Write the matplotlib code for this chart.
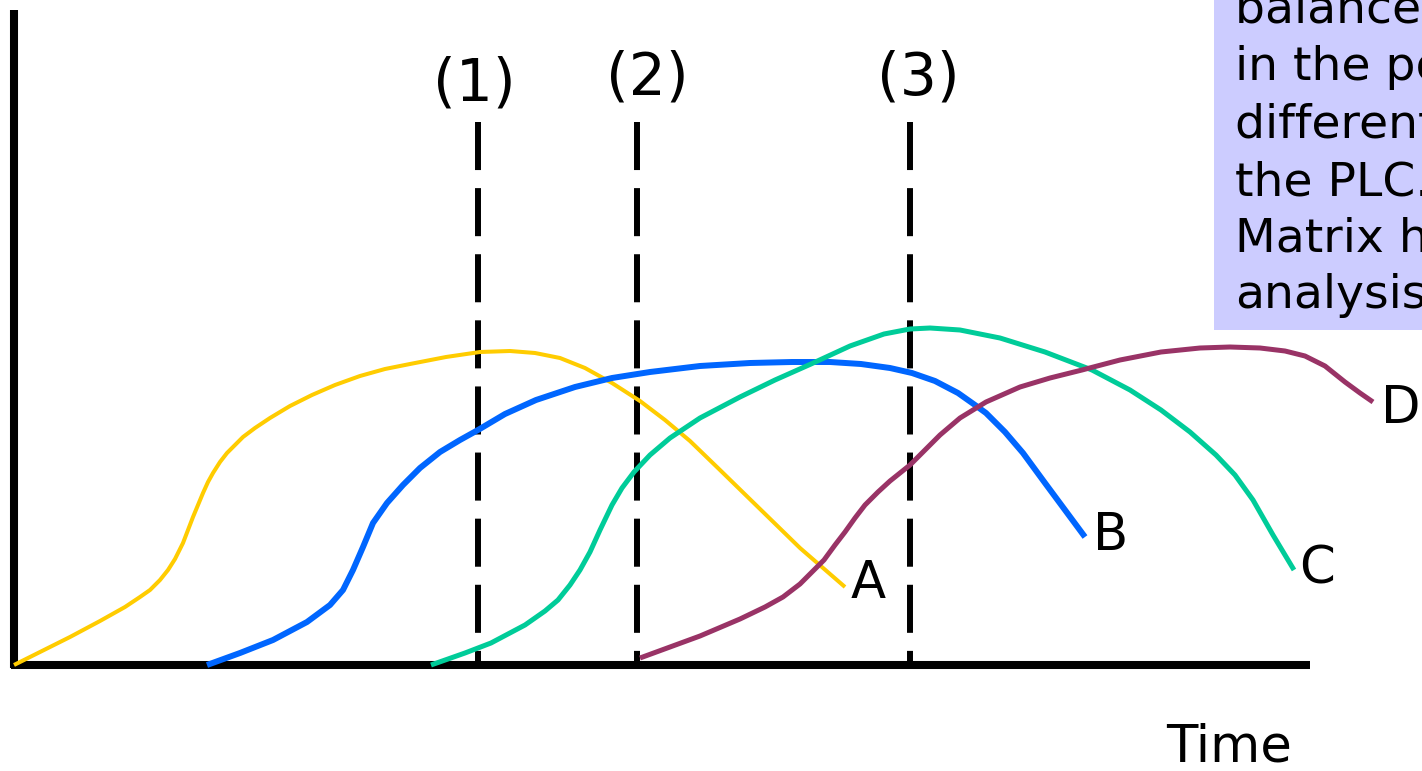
import matplotlib
matplotlib.use("Agg")
import matplotlib.pyplot as plt
from matplotlib.patches import Rectangle

# product life cycle curves (time, sales)
a_time = [0, 26, 56, 86, 111, 126, 136, 146, 154, 161, 169, 174, 179, 184, 189, 194, 199, 206, 213, 221,
          229, 241, 256, 276, 298, 321, 346, 371, 396, 432, 466, 496, 521, 546, 571, 598, 626, 651, 676, 706,
          746, 786, 831]
a_sales = [0, 13, 28, 44, 58, 68, 75, 85, 95, 106, 122, 135, 148, 160, 172, 183, 192, 203, 212, 220,
           228, 237, 247, 259, 270, 280, 289, 296, 301, 308, 313, 314, 312, 307, 297, 282, 264, 245, 224, 195,
           156, 117, 78]

b_time = [193, 226, 259, 293, 316, 329, 339, 349, 359, 373, 389, 406, 426, 446, 464, 491, 522, 561, 598, 636,
          686, 736, 778, 816, 847, 876, 898, 921, 944, 961, 972, 991, 1009, 1031, 1051, 1071]
b_sales = [0, 12, 25, 43, 60, 75, 95, 118, 142, 162, 180, 197, 213, 225, 235, 251, 265, 278, 287, 293,
           299, 302, 303, 303, 301, 297, 292, 284, 272, 260, 252, 233, 212, 182, 155, 128]

c_time = [417, 451, 477, 511, 531, 544, 556, 566, 576, 586, 598, 608, 620, 636, 656, 686, 726, 761, 797, 836,
          870, 896, 916, 946, 986, 1031, 1078, 1116, 1147, 1176, 1202, 1221, 1239, 1259, 1280]
c_sales = [0, 12, 22, 40, 54, 65, 80, 95, 113, 135, 160, 177, 193, 210, 227, 247, 268, 285, 301, 319,
           331, 336, 337, 335, 327, 313, 295, 275, 255, 233, 210, 190, 165, 130, 95]

d_time = [626, 656, 686, 726, 751, 769, 786, 798, 810, 821, 831, 841, 851, 864, 876, 896, 911, 926, 946, 972,
          1006, 1036, 1068, 1106, 1147, 1186, 1216, 1246, 1271, 1291, 1311, 1331, 1346, 1359]
d_sales = [7, 18, 29, 46, 58, 68, 81, 93, 105, 120, 133, 147, 160, 173, 184, 200, 215, 230, 247, 263,
           278, 287, 295, 305, 313, 317, 318, 317, 314, 309, 299, 283, 272, 263]

phase_time = [464, 623, 896]
phase_labels = ["(1)", "(2)", "(3)"]

box_lines = ["balance of products", "in the portfolio at", "different stages of",
             "the PLC. The BCG", "Matrix helps this", "analysis"]

plt.rcParams["lines.scale_dashes"] = False

fig = plt.figure(figsize=(14.22, 7.71), dpi=100)
ax = fig.add_axes([0, 0, 1, 1])
ax.set_xlim(-14, 1408)
ax.set_ylim(-106, 665)
ax.axis("off")

# shaded note box (runs off the edge of the slide)
ax.add_patch(Rectangle((1200, 335), 400, 500, facecolor="#ccccff", edgecolor="none", zorder=1))
box_s = [642, 585, 527, 470, 413, 357]
for line, s in zip(box_lines, box_s):
    ax.text(1221, s, line, fontsize=34, va="baseline", ha="left", zorder=2)

# axes
ax.plot([0, 0], [-3, 655], color="black", lw=5.8, solid_capstyle="butt", zorder=3)
ax.plot([-3, 1296], [0, 0], color="black", lw=5.8, solid_capstyle="butt", zorder=3)

# phase markers
label_pos = [(460, 564), (633, 570), (904, 570)]
for t, lab, (lx, ly) in zip(phase_time, phase_labels, label_pos):
    ax.plot([t, t], [543, 0], color="black", lw=4.3, linestyle=(0, (34.6, 13.0)),
            dash_capstyle="butt", zorder=3)
    ax.text(lx, ly, lab, fontsize=42, ha="center", va="baseline")

style = dict(solid_capstyle="butt", solid_joinstyle="round", zorder=4)
ax.plot(a_time, a_sales, color="#ffcc00", lw=2.9, **style)
ax.plot(b_time, b_sales, color="#0066ff", lw=4.3, **style)
ax.plot(c_time, c_sales, color="#00cc99", lw=3.6, **style)
ax.plot(d_time, d_sales, color="#993366", lw=3.6, **style)

ax.text(837, 67, "A", fontsize=37, va="baseline", ha="left")
ax.text(1079, 115, "B", fontsize=37, va="baseline", ha="left")
ax.text(1285, 82, "C", fontsize=37, va="baseline", ha="left")
ax.text(1367, 242, "D", fontsize=37, va="baseline", ha="left")
ax.text(1152, -97, "Time", fontsize=37, va="baseline", ha="left")

fig.savefig("out.png", dpi=100)
